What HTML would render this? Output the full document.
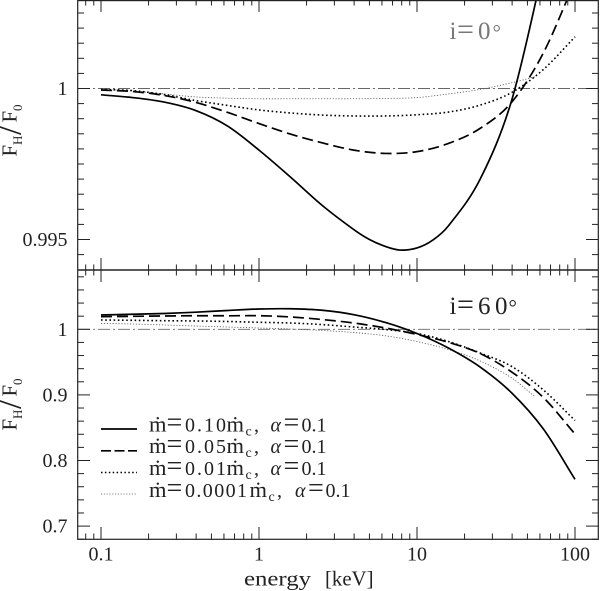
<!DOCTYPE html>
<html>
<head>
<meta charset="utf-8">
<style>
html,body{margin:0;padding:0;background:#fff;width:600px;height:591px;overflow:hidden}
svg{display:block}
text{font-family:"Liberation Serif",serif;fill:#222}
</style>
</head>
<body>
<svg id="chart" width="600" height="591" viewBox="0 0 600 591" xmlns="http://www.w3.org/2000/svg">
<defs>
<clipPath id="clip-top"><rect x="78" y="0" width="520" height="270"/></clipPath>
<clipPath id="clip-bot"><rect x="78" y="270" width="520" height="269"/></clipPath>
</defs>
<rect width="600" height="591" fill="#fff"/>
<g id="refs"></g>
<g id="top-series" clip-path="url(#clip-top)"></g>
<g id="bot-series" clip-path="url(#clip-bot)"></g>
<g id="ticks"></g>
<rect x="77.7" y="0.6" width="520.6" height="538.7" fill="none" stroke="#222" stroke-width="1.2"/>
<line x1="78" x2="598" y1="270" y2="270" stroke="#222" stroke-width="1.6"/>
<g id="labels"></g>

<text transform="translate(16.7,156.5) rotate(-90)" font-size="21"><tspan x="0" y="0">F</tspan><tspan x="11.5" y="5.5" font-size="13">H</tspan><tspan x="21.5" y="4" font-size="35">/</tspan><tspan x="34" y="0">F</tspan><tspan x="45.5" y="5.5" font-size="13">0</tspan></text>
<text transform="translate(16.7,430.5) rotate(-90)" font-size="21"><tspan x="0" y="0">F</tspan><tspan x="11.5" y="5.5" font-size="13">H</tspan><tspan x="21.5" y="4" font-size="35">/</tspan><tspan x="34" y="0">F</tspan><tspan x="45.5" y="5.5" font-size="13">0</tspan></text>
<text x="244" y="585.7" font-size="21" textLength="67" lengthAdjust="spacingAndGlyphs">energy</text>
<text x="325" y="585.7" font-size="21" textLength="48.5" lengthAdjust="spacingAndGlyphs">[keV]</text>
<text y="39" font-size="25" style="fill:#777"><tspan x="449.5">i</tspan><tspan x="457" font-size="30">=</tspan><tspan x="478">0</tspan><tspan x="492.5" font-size="21">°</tspan></text>
<text y="314" font-size="25"><tspan x="449.5">i</tspan><tspan x="457" font-size="30">=</tspan><tspan x="478">6</tspan><tspan x="495">0</tspan><tspan x="508.5" font-size="21">°</tspan></text>

<g>
<line x1="101" x2="137" y1="429" y2="429" stroke="#000" stroke-width="1.7"/>
<line x1="101" x2="137" y1="450.8" y2="450.8" stroke="#000" stroke-width="1.7" stroke-dasharray="10 3.5"/>
<line x1="101" x2="137" y1="472.5" y2="472.5" stroke="#000" stroke-width="1.5" stroke-dasharray="1.5 2.4"/>
<line x1="101" x2="137" y1="494" y2="494" stroke="#888" stroke-width="0.9" stroke-dasharray="1.2 1.6"/>
<text y="431.7" font-size="20"><tspan x="149" font-size="22.5">ṁ</tspan><tspan x="166.5" font-size="28">=</tspan><tspan x="185" letter-spacing="2">0.10</tspan><tspan x="226.5" font-size="22.5">ṁ</tspan><tspan x="245.5" dy="4" font-size="14">c</tspan><tspan x="254" dy="-4">,</tspan><tspan x="270.5" font-style="italic">α</tspan><tspan x="283.5" font-size="28">=</tspan><tspan x="301.5">0.1</tspan></text>
<text y="453" font-size="20"><tspan x="149" font-size="22.5">ṁ</tspan><tspan x="166.5" font-size="28">=</tspan><tspan x="185" letter-spacing="2">0.05</tspan><tspan x="226.5" font-size="22.5">ṁ</tspan><tspan x="245.5" dy="4" font-size="14">c</tspan><tspan x="254" dy="-4">,</tspan><tspan x="270.5" font-style="italic">α</tspan><tspan x="283.5" font-size="28">=</tspan><tspan x="301.5">0.1</tspan></text>
<text y="475" font-size="20"><tspan x="149" font-size="22.5">ṁ</tspan><tspan x="166.5" font-size="28">=</tspan><tspan x="185" letter-spacing="2">0.01</tspan><tspan x="226.5" font-size="22.5">ṁ</tspan><tspan x="245.5" dy="4" font-size="14">c</tspan><tspan x="254" dy="-4">,</tspan><tspan x="270.5" font-style="italic">α</tspan><tspan x="283.5" font-size="28">=</tspan><tspan x="301.5">0.1</tspan></text>
<text y="497.2" font-size="20"><tspan x="149" font-size="22.5">ṁ</tspan><tspan x="166.5" font-size="28">=</tspan><tspan x="185" letter-spacing="1.4">0.0001</tspan><tspan x="249.5" font-size="22.5">ṁ</tspan><tspan x="268.5" dy="4" font-size="14">c</tspan><tspan x="277" dy="-4">,</tspan><tspan x="295" font-style="italic">α</tspan><tspan x="308" font-size="28">=</tspan><tspan x="325.5">0.1</tspan></text>
</g>
</svg>
<script>
const energies = [0.1,0.158,0.251,0.398,0.631,1,1.58,2.51,3.98,6.31,10,15.8,25.1,39.8,63.1,100];
const energiesThin = [0.1,0.158,0.251,0.398,0.631,1,1.58,2.51,3.98,6.31,10,15.8,25.1,39.8,56];
const energiesTopSolid = [0.1,0.158,0.251,0.398,0.631,1,1.58,2.51,3.98,5,6.31,7.8,10,12.6,15.8,25.1,39.8,63.1,100];

const topSolid = [0.99979,0.99970,0.99955,0.99927,0.99876,0.99796,0.99707,0.99613,0.99533,0.99500,0.99477,0.99465,0.99472,0.99498,0.99545,0.99700,0.99962,1.00399,1.00856];
const topDashed = [0.99995,0.99990,0.99977,0.99954,0.99921,0.99884,0.99849,0.99820,0.99796,0.99785,0.99791,0.99818,0.99868,0.99955,1.00118,1.00356];
const topDotted = [0.99997,0.99993,0.99980,0.99960,0.99944,0.99929,0.99919,0.99912,0.99909,0.99909,0.99913,0.99922,0.99945,0.99987,1.00063,1.00171];
const topThin = [0.99997,0.99992,0.99982,0.99972,0.99968,0.99966,0.99966,0.99966,0.99966,0.99967,0.99970,0.99982,0.99997,1.00019,1.00039];

const botSolid = [1.0218,1.0229,1.0241,1.0261,1.0287,1.0309,1.0313,1.0290,1.0223,1.0104,0.9936,0.9715,0.9425,0.9029,0.8480,0.7713];
const botDashed = [1.0192,1.0198,1.0203,1.0207,1.0206,1.0207,1.0188,1.0149,1.0096,1.0020,0.9921,0.9802,0.9631,0.9349,0.8960,0.8404];
const botDotted = [1.0142,1.0137,1.0131,1.0127,1.0119,1.0107,1.0096,1.0072,1.0035,0.9997,0.9936,0.9814,0.9639,0.9433,0.9075,0.8610];
const botThin = [1.0091,1.0081,1.0066,1.0050,1.0035,1.0020,1.0005,0.9982,0.9951,0.9901,0.9814,0.9692,0.9517,0.9258,0.8968];

const xMajorTicks = [0.1,1,10,100];
const xMinorTicks = [0.08,0.09,0.2,0.3,0.4,0.5,0.6,0.7,0.8,0.9,2,3,4,5,6,7,8,9,20,30,40,50,60,70,80,90];
const xTickLabels = ['0.1','1','10','100'];
const topMajorTicks = [1,0.995];
const topMajorLabels = ['1','0.995'];
const topMinorTicks = [1.0025,1.002,1.0015,1.001,1.0005,0.9995,0.999,0.9985,0.998,0.9975,0.997,0.9965,0.996,0.9955,0.9945];
const botMajorTicks = [1,0.9,0.8,0.7];
const botMajorLabels = ['1','0.9','0.8','0.7'];
const botMinorTicks = [1.08,1.06,1.04,1.02,0.98,0.96,0.94,0.92,0.88,0.86,0.84,0.82,0.78,0.76,0.74,0.72,0.68];

const NS = 'http://www.w3.org/2000/svg';
function xScale(e){ return 259 + 158*Math.log10(e); }
function yTop(v){ return 88.5 - (v-1)/0.001*30.2; }
function yBot(v){ return 329.3 - (v-1)*656; }

function smoothPath(xs, ys){
  const pts = xs.map((e,i)=>[xScale(e), ys[i]]);
  let d = 'M'+pts[0][0].toFixed(2)+' '+pts[0][1].toFixed(2);
  for(let i=0;i<pts.length-1;i++){
    const p0=pts[Math.max(0,i-1)],p1=pts[i],p2=pts[i+1],p3=pts[Math.min(pts.length-1,i+2)];
    const h=p2[0]-p1[0];
    const m1=(p2[1]-p0[1])/(p2[0]-p0[0]),m2=(p3[1]-p1[1])/(p3[0]-p1[0]);
    const c1x=p1[0]+h/3,c1y=p1[1]+m1*h/3;
    const c2x=p2[0]-h/3,c2y=p2[1]-m2*h/3;
    d+=' C'+c1x.toFixed(2)+' '+c1y.toFixed(2)+' '+c2x.toFixed(2)+' '+c2y.toFixed(2)+' '+p2[0].toFixed(2)+' '+p2[1].toFixed(2);
  }
  return d;
}
function styleLine(el, kind){
  el.setAttribute('fill','none');
  if(kind==='solid'){ el.setAttribute('stroke','#000'); el.setAttribute('stroke-width','1.7'); }
  if(kind==='dashed'){ el.setAttribute('stroke','#000'); el.setAttribute('stroke-width','1.7'); el.setAttribute('stroke-dasharray','11 5'); }
  if(kind==='dotted'){ el.setAttribute('stroke','#000'); el.setAttribute('stroke-width','1.6'); el.setAttribute('stroke-dasharray','1.6 2.6'); }
  if(kind==='thin'){ el.setAttribute('stroke','#555'); el.setAttribute('stroke-width','0.8'); el.setAttribute('stroke-dasharray','1.2 1.7'); }
}
function drawSeries(group, xs, vals, yFn, kind, panel){
  const el = document.createElementNS(NS,'path');
  el.setAttribute('d', smoothPath(xs, vals.map(yFn)));
  styleLine(el, kind);
  
  
  group.appendChild(el);
}
const topG = document.getElementById('top-series');
const botG = document.getElementById('bot-series');
drawSeries(topG, energiesThin, topThin, yTop, 'thin', 'top');
drawSeries(topG, energies, topDotted, yTop, 'dotted', 'top');
drawSeries(topG, energies, topDashed, yTop, 'dashed', 'top');
drawSeries(topG, energiesTopSolid, topSolid, yTop, 'solid', 'top');
drawSeries(botG, energiesThin, botThin, yBot, 'thin', 'bottom');
drawSeries(botG, energies, botDotted, yBot, 'dotted', 'bottom');
drawSeries(botG, energies, botDashed, yBot, 'dashed', 'bottom');
drawSeries(botG, energies, botSolid, yBot, 'solid', 'bottom');

const refG = document.getElementById('refs');
[yTop(1), yBot(1)].forEach(function(y){
  const el = document.createElementNS(NS,'line');
  el.setAttribute('x1','78'); el.setAttribute('x2','598');
  el.setAttribute('y1',y); el.setAttribute('y2',y);
  el.setAttribute('stroke','#666'); el.setAttribute('stroke-width','0.9');
  el.setAttribute('stroke-dasharray','12 3 2 3');
  
  
  refG.appendChild(el);
});

const tickG = document.getElementById('ticks');
function tick(x1,y1,x2,y2,w){
  const el = document.createElementNS(NS,'line');
  el.setAttribute('x1',x1); el.setAttribute('y1',y1);
  el.setAttribute('x2',x2); el.setAttribute('y2',y2);
  el.setAttribute('stroke','#222'); el.setAttribute('stroke-width',w);
  
  
  tickG.appendChild(el);
}
function xTicks(e, len){
  const x = xScale(e);
  tick(x,0,x,len,1);
  tick(x,270-len,x,270+len,1);
  tick(x,539,x,539-len,1);
}
function yTicks(y, len){
  tick(78,y,78+len,y,1);
  tick(598,y,598-len,y,1);
}
xMajorTicks.forEach(function(e){ xTicks(e,12); });
xMinorTicks.forEach(function(e){ xTicks(e,5.5); });
topMajorTicks.forEach(function(v){ yTicks(yTop(v),12); });
topMinorTicks.forEach(function(v){ yTicks(yTop(v),6); });
botMajorTicks.forEach(function(v){ yTicks(yBot(v),12); });
botMinorTicks.forEach(function(v){ yTicks(yBot(v),6); });

const labelG = document.getElementById('labels');
function label(txt,x,y,anchor,name){
  const el = document.createElementNS(NS,'text');
  el.textContent = txt;
  el.setAttribute('x',x); el.setAttribute('y',y);
  el.setAttribute('text-anchor',anchor);
  el.setAttribute('font-size','20');
  
  
  labelG.appendChild(el);
}
xMajorTicks.forEach(function(e,i){ label(xTickLabels[i], xScale(e), 560.5, 'middle', 'x-tick-label'); });
topMajorTicks.forEach(function(v,i){ label(topMajorLabels[i], 67.5, yTop(v)+6.5, 'end', 'top-y-tick-label'); });
botMajorTicks.forEach(function(v,i){ label(botMajorLabels[i], 67.5, yBot(v)+6.5, 'end', 'bottom-y-tick-label'); });
</script>
</body>
</html>
